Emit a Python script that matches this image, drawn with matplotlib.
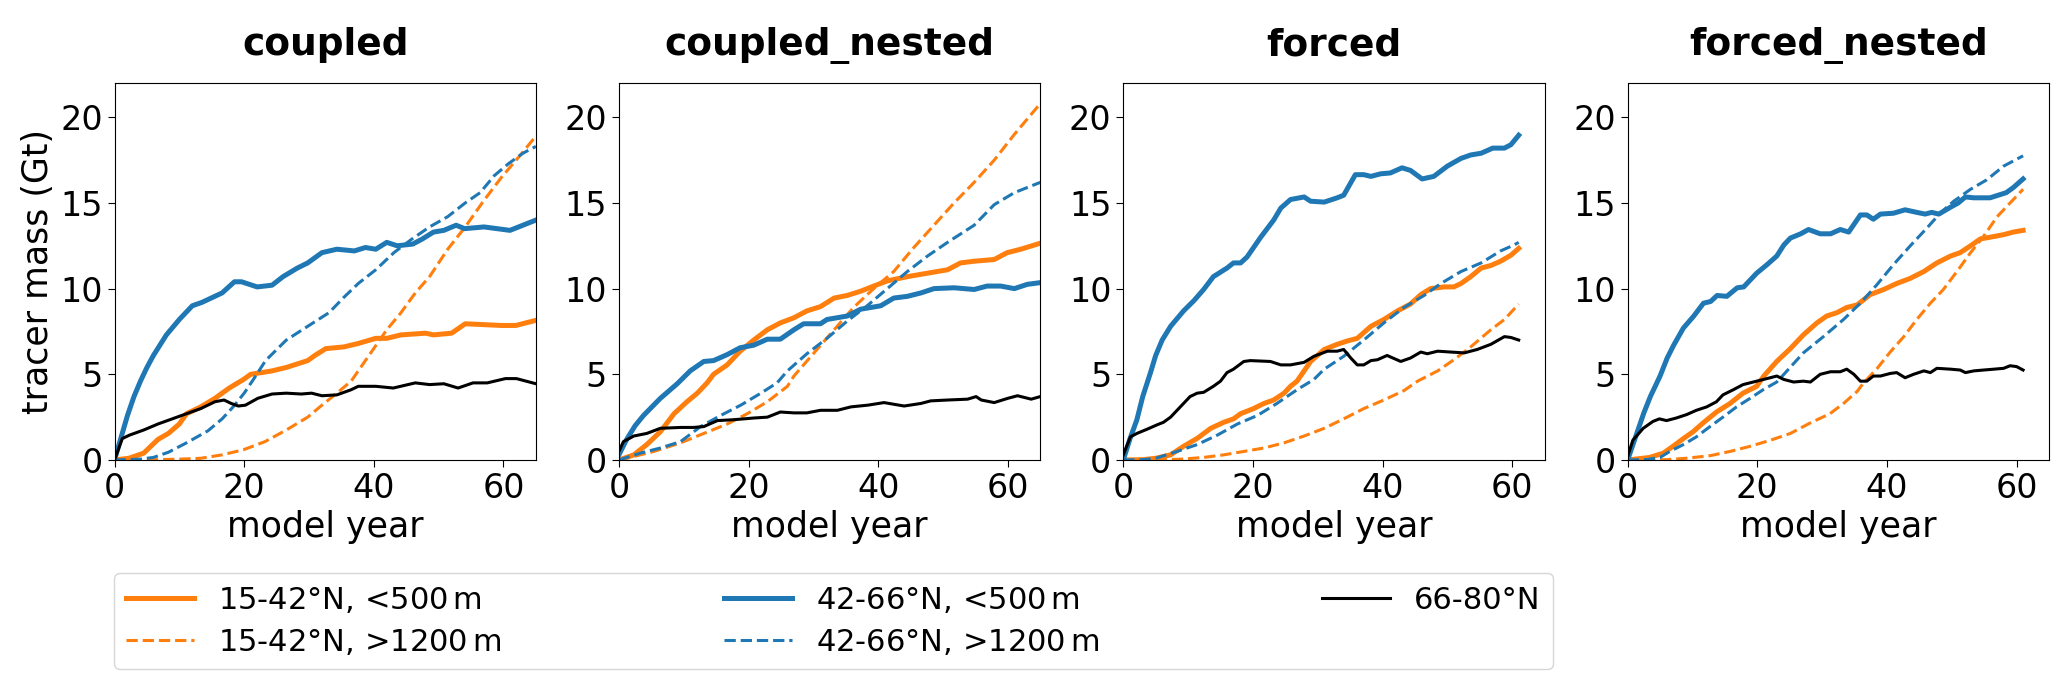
import matplotlib
matplotlib.use('Agg')
import matplotlib.pyplot as plt

# panel names and legend labels
panels = ['coupled', 'coupled_nested', 'forced', 'forced_nested']
labels = ['15-42°N, <500$\\,$m', '15-42°N, >1200$\\,$m',
          '42-66°N, <500$\\,$m', '42-66°N, >1200$\\,$m',
          '66-80°N']

# ---- coupled ----
cpl_os_x = [0, 2.2, 4.5, 6.7, 8.3, 10, 11.1, 13.3, 15.5, 17.7, 19.9, 21, 24.3, 26.5, 29.8, 30.9, 32.6, 35.4,
            37.6, 40.3, 42, 44.2, 48, 49.2, 52, 54.1, 56.9, 59.7, 61.9, 65]
cpl_os_y = [0, 0.1, 0.4, 1.2, 1.55, 2.1, 2.7, 3.1, 3.6, 4.2, 4.7, 5.0, 5.2, 5.4, 5.8, 6.1, 6.5, 6.6,
            6.8, 7.1, 7.1, 7.3, 7.4, 7.3, 7.4, 7.95, 7.9, 7.85, 7.85, 8.15]
cpl_od_x = [0, 5, 10, 13.3, 16.6, 19.9, 23.2, 26.5, 29.8, 32, 34.3, 36.5, 39.8, 42, 44.2, 46.4, 48.6,
            51.4, 54.1, 56.9, 59.7, 62.4, 65]
cpl_od_y = [0, 0.01, 0.05, 0.1, 0.3, 0.6, 1.07, 1.75, 2.5, 3.2, 3.9, 4.6, 6.4, 7.6, 8.6, 9.75, 10.7,
            12.3, 13.6, 15.1, 16.5, 17.7, 18.9]
cpl_bs_x = [0, 1, 2, 3, 4, 5, 6, 7, 8, 10, 12, 13.5, 16.6, 18.5, 19.6, 22, 24.3, 26, 28.2, 29.8, 32, 34.3,
            37, 38.7, 40.3, 42, 43.6, 46, 47.5, 49.2, 50.8, 52.7, 54, 57, 59, 61, 63, 65]
cpl_bs_y = [0, 1.3, 2.6, 3.7, 4.6, 5.4, 6.1, 6.7, 7.3, 8.2, 9.0, 9.2, 9.75, 10.4, 10.4, 10.1, 10.2, 10.7,
            11.2, 11.5, 12.1, 12.3, 12.2, 12.4, 12.3, 12.7, 12.5, 12.6, 12.9, 13.3, 13.4, 13.7, 13.5, 13.6,
            13.5, 13.4, 13.7, 14.0]
cpl_bd_x = [0, 4, 6, 8.3, 11.1, 14.4, 16.6, 18.3, 20, 21.6, 23.3, 26.5, 29.8, 33.1, 35.4, 37.6, 40.3, 43.1,
            45.9, 48.6, 51.4, 54.1, 56.4, 58.6, 60.8, 63, 65]
cpl_bd_y = [0, 0.05, 0.15, 0.45, 1.0, 1.7, 2.4, 3.1, 3.9, 4.8, 5.8, 7.0, 7.8, 8.6, 9.5, 10.3, 11.1, 12.1,
            12.9, 13.6, 14.2, 15.0, 15.6, 16.6, 17.3, 17.9, 18.3]
cpl_k_x = [0, 1.2, 2.3, 4.5, 6.7, 8.9, 11.1, 13.3, 15.5, 16.9, 18, 19.1, 20.2, 22.1, 24.3, 26.5, 28.8, 30.4,
           32, 34.3, 36.5, 37.6, 40.3, 43, 46.4, 48.6, 50.8, 53, 55.3, 57.5, 60.3, 62, 65]
cpl_k_y = [0, 1.25, 1.45, 1.75, 2.1, 2.4, 2.7, 3.0, 3.4, 3.5, 3.3, 3.15, 3.2, 3.6, 3.85, 3.9, 3.85, 3.9,
           3.75, 3.8, 4.1, 4.3, 4.3, 4.2, 4.5, 4.4, 4.45, 4.2, 4.5, 4.5, 4.75, 4.75, 4.45]

# ---- coupled_nested ----
cpn_os_x = [0, 2.3, 4.3, 6.4, 8.5, 10.5, 12.1, 13.6, 14.6, 16.7, 18.7, 20.8, 22.9, 24.9, 27, 29, 31.1, 33.2,
            35.2, 37.3, 39.3, 41.4, 44.5, 47.6, 50.7, 52.7, 54.8, 57.9, 59.9, 62, 65]
cpn_os_y = [0, 0.3, 0.9, 1.65, 2.7, 3.4, 3.9, 4.5, 5.0, 5.55, 6.35, 7.0, 7.6, 8.0, 8.3, 8.7, 8.95, 9.45,
            9.6, 9.85, 10.15, 10.45, 10.7, 10.9, 11.1, 11.5, 11.6, 11.7, 12.1, 12.3, 12.65]
cpn_od_x = [0, 1.2, 5.4, 9.5, 13.1, 16.7, 19.8, 22.9, 26, 27, 30.1, 33.2, 36.2, 39.3, 42.4, 45.5, 48.6,
            51.7, 54.8, 57.9, 61, 65]
cpn_od_y = [0, 0.1, 0.5, 1.0, 1.55, 2.1, 2.7, 3.4, 4.3, 4.9, 6.25, 7.6, 8.9, 10.0, 11.0, 12.4, 13.7,
            15.0, 16.2, 17.5, 19.0, 20.8]
cpn_bs_x = [0, 1.2, 2.5, 3.8, 6.4, 9, 11, 13.1, 14.6, 16.7, 18.7, 20.8, 22.9, 24.9, 27, 28.5, 31.1, 32.1,
            35.2, 37.3, 40.4, 42.4, 44.5, 46.6, 48.6, 51.7, 54.8, 56.8, 58.9, 61, 63, 65]
cpn_bs_y = [0.3, 1.2, 2.0, 2.6, 3.6, 4.45, 5.2, 5.75, 5.8, 6.15, 6.55, 6.7, 7.05, 7.05, 7.6, 7.95, 7.95,
            8.2, 8.4, 8.8, 9.0, 9.45, 9.55, 9.75, 10.0, 10.05, 9.95, 10.15, 10.15, 10.0, 10.25, 10.35]
cpn_bd_x = [0, 3.3, 6.4, 9.5, 12.6, 15.7, 18.8, 21.9, 24.4, 26, 29, 32.1, 35.2, 38.3, 41.4, 44.5, 47.6,
            50.7, 54.8, 57.9, 61, 65]
cpn_bd_y = [0, 0.4, 0.7, 1.07, 1.95, 2.6, 3.2, 3.9, 4.5, 5.2, 6.2, 7.1, 8.1, 9.0, 10.0, 11.0, 11.9,
            12.7, 13.7, 14.9, 15.6, 16.2]
cpn_k_x = [0, 0.7, 2.3, 4.3, 6.4, 9.5, 11.5, 13.1, 15.2, 17.7, 20.8, 22.9, 24.9, 27, 29, 31.1, 33.7, 35.8,
           38.4, 40.9, 44, 46.6, 48.1, 50.7, 53.8, 55.1, 55.9, 57.9, 60, 61.5, 63.6, 65]
cpn_k_y = [0.5, 1.07, 1.4, 1.55, 1.85, 1.9, 1.9, 1.95, 2.3, 2.35, 2.45, 2.5, 2.8, 2.75, 2.75, 2.9, 2.9,
           3.1, 3.2, 3.35, 3.15, 3.3, 3.45, 3.5, 3.55, 3.7, 3.5, 3.35, 3.6, 3.75, 3.55, 3.7]

# ---- forced ----
frc_os_x = [0, 3, 5, 7.3, 9.3, 11.4, 13.5, 15.5, 17, 18.1, 20.1, 21.7, 23.2, 24.8, 25.8, 26.8, 28.9, 31,
            33, 34.6, 36.1, 38.2, 40.2, 42.3, 44.3, 45.9, 47.4, 49.5, 51, 52.1, 53.6, 55.2, 56.7, 58.2,
            59.8, 61]
frc_os_y = [0, 0.02, 0.1, 0.3, 0.8, 1.26, 1.85, 2.2, 2.4, 2.7, 3.0, 3.3, 3.5, 3.9, 4.3, 4.6, 5.75, 6.45,
            6.75, 6.95, 7.1, 7.8, 8.2, 8.7, 9.1, 9.65, 10.0, 10.1, 10.1, 10.3, 10.7, 11.2, 11.35, 11.6,
            11.95, 12.35]
frc_od_x = [0, 5, 9, 12.4, 15.5, 18.6, 21.7, 24.8, 27.9, 31, 34, 37.1, 40.2, 43.3, 45.4, 48.5, 51, 53.6,
            56.7, 58.8, 61]
frc_od_y = [0, 0.01, 0.05, 0.15, 0.3, 0.5, 0.7, 1.0, 1.4, 1.85, 2.4, 3.0, 3.5, 4.05, 4.6, 5.2, 5.85, 6.6,
            7.6, 8.2, 9.1]
frc_bs_x = [0, 1, 2.1, 3, 4.2, 5, 6, 7.3, 9.3, 10.9, 12.4, 13.9, 16, 17, 18.1, 19.1, 21.2, 23.2, 24.3,
            25.8, 27.9, 28.9, 31, 33, 34, 35.8, 37.1, 38.2, 39.7, 41.2, 43, 44.3, 46.1, 47.9, 50, 52.1,
            53.6, 55.2, 57, 58.8, 59.8, 61]
frc_bs_y = [0, 1.2, 2.35, 3.7, 5.1, 6.1, 7.0, 7.8, 8.7, 9.3, 9.95, 10.7, 11.2, 11.5, 11.5, 11.85, 13.0,
            14.0, 14.7, 15.2, 15.35, 15.1, 15.05, 15.3, 15.45, 16.65, 16.65, 16.55, 16.7, 16.75, 17.05,
            16.9, 16.4, 16.55, 17.15, 17.6, 17.8, 17.9, 18.2, 18.2, 18.4, 18.95]
frc_bd_x = [0, 3, 5, 8.3, 11.4, 14.5, 17.6, 20.7, 23.7, 26.8, 29.4, 31, 34, 37.1, 40.2, 43.3, 46.4, 49,
            52.1, 55.2, 58.2, 60.3, 61]
frc_bd_y = [0, 0.02, 0.1, 0.5, 0.9, 1.45, 2.1, 2.6, 3.3, 4.1, 4.7, 5.3, 6.05, 7.0, 8.0, 8.9, 9.6, 10.3,
            11.0, 11.5, 12.2, 12.55, 12.7]
frc_k_x = [0, 1.1, 2.1, 3.7, 5.2, 6.2, 7.3, 8.8, 10.3, 11.4, 12.4, 13.9, 15, 16, 17, 18.6, 19.6, 22.7,
           24.3, 25.8, 27.9, 29.4, 31.5, 33, 34, 35.1, 36.1, 37.1, 38.2, 39.2, 40.7, 42.8, 44.3, 45.9,
           46.9, 48.5, 50.5, 52.6, 54.6, 56.7, 58.8, 59.8, 61]
frc_k_y = [0.3, 1.35, 1.55, 1.8, 2.05, 2.2, 2.5, 3.1, 3.7, 3.9, 3.95, 4.3, 4.6, 5.1, 5.3, 5.75, 5.8, 5.75,
           5.55, 5.55, 5.7, 6.05, 6.35, 6.35, 6.45, 5.95, 5.55, 5.55, 5.8, 5.85, 6.1, 5.75, 5.95, 6.3,
           6.2, 6.35, 6.3, 6.25, 6.45, 6.75, 7.2, 7.15, 7.0]

# ---- forced_nested ----
frn_os_x = [0, 3.4, 5.5, 7, 8.6, 10.1, 11.6, 13.7, 15.8, 17.8, 19.9, 21, 23, 25.1, 27.1, 29.2, 30.7, 32.3,
            33.8, 35.4, 37.4, 39.5, 41.5, 43.6, 45.7, 47.7, 49.8, 51.3, 52.9, 54.4, 55.9, 58, 59.5, 61]
frn_os_y = [0, 0.15, 0.4, 0.8, 1.25, 1.65, 2.15, 2.8, 3.3, 3.9, 4.3, 4.9, 5.75, 6.5, 7.3, 8.0, 8.4, 8.6,
            8.9, 9.05, 9.65, 9.95, 10.3, 10.6, 11.0, 11.5, 11.9, 12.1, 12.5, 12.9, 13.0, 13.15, 13.3, 13.4]
frn_od_x = [0, 6, 9, 12.7, 15.8, 18.9, 22, 25.1, 28.1, 31.2, 33.3, 35.4, 36.4, 38.5, 40.5, 42.6, 44.6,
            46.7, 48.7, 50.8, 52.9, 54.9, 57, 59, 61]
frn_od_y = [0, 0.02, 0.1, 0.25, 0.5, 0.8, 1.15, 1.55, 2.15, 2.7, 3.3, 4.0, 4.5, 5.35, 6.3, 7.2, 8.2,
            9.15, 9.95, 11.0, 12.1, 13.05, 14.2, 15.0, 15.8]
frn_bs_x = [0, 1, 2.5, 3.5, 5, 6.1, 7.1, 8.6, 10.2, 11.7, 12.8, 13.8, 15.3, 16.9, 17.9, 19.9, 21.5, 23,
            24.1, 25.1, 26.7, 27.9, 29.7, 31.3, 32.8, 34.1, 35.9, 36.9, 37.9, 39, 41, 42.8, 44.6, 45.9,
            46.9, 48, 49.8, 51, 52.1, 53.4, 55.9, 58.4, 59.5, 61]
frn_bs_y = [0, 1.1, 2.75, 3.7, 4.9, 5.95, 6.7, 7.7, 8.4, 9.15, 9.25, 9.6, 9.55, 10.05, 10.1, 10.9, 11.4,
            11.9, 12.55, 12.95, 13.2, 13.45, 13.2, 13.2, 13.45, 13.3, 14.3, 14.3, 14.05, 14.35, 14.4,
            14.6, 14.45, 14.35, 14.45, 14.35, 14.75, 15.0, 15.35, 15.3, 15.3, 15.6, 15.9, 16.4]
frn_bd_x = [0, 3, 5, 6.5, 8.6, 10.6, 12.7, 14.7, 16.8, 18.9, 20.9, 23, 24.1, 27.1, 30.2, 33.3, 35.9,
            38.5, 41, 43.6, 46.2, 48.2, 50.3, 52.9, 55.4, 58, 59.5, 61]
frn_bd_y = [0, 0.03, 0.15, 0.5, 0.9, 1.35, 1.95, 2.5, 3.1, 3.6, 4.1, 4.55, 5.0, 6.25, 7.2, 8.2, 9.15,
            10.25, 11.4, 12.5, 13.55, 14.4, 15.1, 15.8, 16.35, 17.15, 17.45, 17.75]
frn_k_x = [0, 0.8, 2.4, 3.9, 4.9, 6, 7.5, 9.1, 10.6, 12.2, 13.7, 14.7, 16.3, 17.8, 19.9, 22, 23, 24.1,
           25.6, 27.1, 28.2, 29.7, 31.3, 32.8, 33.8, 34.9, 35.9, 36.9, 37.9, 39, 40.5, 41.5, 42.8, 44.1,
           45.7, 46.7, 47.7, 49.8, 51.3, 52.1, 53.4, 54.9, 56.5, 58, 59, 60, 61]
frn_k_y = [0.2, 1.15, 1.85, 2.25, 2.4, 2.3, 2.45, 2.65, 2.9, 3.1, 3.4, 3.8, 4.1, 4.4, 4.6, 4.8, 4.9, 4.7,
           4.55, 4.6, 4.55, 5.0, 5.15, 5.15, 5.3, 5.0, 4.6, 4.6, 4.9, 4.9, 5.05, 5.1, 4.8, 5.0, 5.2, 5.1,
           5.35, 5.3, 5.25, 5.1, 5.2, 5.25, 5.3, 5.35, 5.5, 5.45, 5.25]

series = {
    'coupled': [(cpl_os_x, cpl_os_y), (cpl_od_x, cpl_od_y), (cpl_bs_x, cpl_bs_y),
                (cpl_bd_x, cpl_bd_y), (cpl_k_x, cpl_k_y)],
    'coupled_nested': [(cpn_os_x, cpn_os_y), (cpn_od_x, cpn_od_y), (cpn_bs_x, cpn_bs_y),
                       (cpn_bd_x, cpn_bd_y), (cpn_k_x, cpn_k_y)],
    'forced': [(frc_os_x, frc_os_y), (frc_od_x, frc_od_y), (frc_bs_x, frc_bs_y),
               (frc_bd_x, frc_bd_y), (frc_k_x, frc_k_y)],
    'forced_nested': [(frn_os_x, frn_os_y), (frn_od_x, frn_od_y), (frn_bs_x, frn_bs_y),
                      (frn_bd_x, frn_bd_y), (frn_k_x, frn_k_y)],
}

# style of each series: colour, linestyle, linewidth
styles = [('tab:orange', '-', 3.6), ('tab:orange', '--', 2.2),
          ('tab:blue', '-', 3.6), ('tab:blue', '--', 2.2),
          ('black', '-', 2.2)]

fig, axes = plt.subplots(1, 4, figsize=(20.67, 6.91), dpi=100)
fig.subplots_adjust(left=0.0554, right=0.9913, bottom=0.3343, top=0.8799, wspace=0.197)

for ax, name in zip(axes, panels):
    handles = []
    for (x, y), (c, ls, lw) in zip(series[name], styles):
        h, = ax.plot(x, y, color=c, linestyle=ls, linewidth=lw)
        handles.append(h)
    ax.set_xlim(0, 65)
    ax.set_ylim(0, 22)
    ax.set_xticks([0, 20, 40, 60])
    ax.set_yticks([0, 5, 10, 15, 20])
    ax.tick_params(labelsize=24, length=5)
    ax.set_xlabel('model year', fontsize=25)
    ax.set_title(name, fontsize=27, fontweight='bold', pad=20)

axes[0].set_ylabel('tracer mass (Gt)', fontsize=25)

fig.legend(handles, labels, loc='center', ncol=3, mode='expand',
           bbox_to_anchor=(0.0552, 0.0275, 0.696, 0.1476), fontsize=22,
           handlelength=2.2, labelspacing=0.4, borderaxespad=0)

fig.savefig('out.png', dpi=100)
